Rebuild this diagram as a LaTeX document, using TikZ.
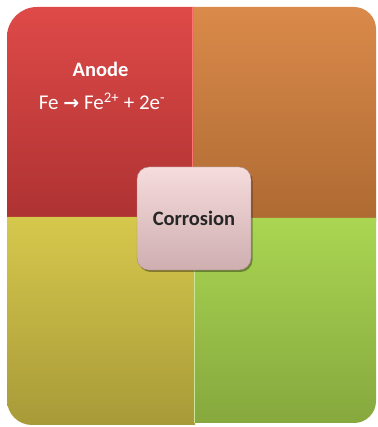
\documentclass[tikz,border=0pt]{standalone}
\usepackage{fontspec}
\setmainfont{Carlito}
\newfontfamily\arrowfont{DejaVu Sans}
\usetikzlibrary{shadows}
\definecolor{redT}{HTML}{DE4A48}
\definecolor{redB}{HTML}{AE3232}
\definecolor{orT}{HTML}{DA8A4A}
\definecolor{orB}{HTML}{AE6A32}
\definecolor{yeT}{HTML}{D6C84C}
\definecolor{yeB}{HTML}{A89A38}
\definecolor{grT}{HTML}{AAD652}
\definecolor{grB}{HTML}{86A83E}
\definecolor{pkT}{HTML}{F6DCDC}
\definecolor{pkB}{HTML}{CFAEB0}
\tikzset{
  quad/.style={shading=axis, shading angle=0},
  whitetext/.style={text=white, font=\fontsize{21}{24}\selectfont, inner sep=0pt, anchor=base},
  centerbox/.style={rounded corners=12pt, minimum width=114pt, minimum height=103pt,
    top color=pkT, bottom color=pkB, draw=pkB!80!black, line width=0.4pt,
    drop shadow={shadow xshift=1.5pt, shadow yshift=-2pt, opacity=0.35, fill=black},
    font=\bfseries\fontsize{20.5}{24}\selectfont, text=black!85}
}
\begin{document}
\begin{tikzpicture}[x=1pt,y=1pt]
\useasboundingbox (0,0) rectangle (377,427);
% orange (top-right)
\shade[quad, top color=orT, bottom color=orB]
  (192,206) -- (192,420) -- (354,420) arc[start angle=90, end angle=0, radius=22] -- (376,206) -- cycle;
% red (top-left)
\shade[quad, top color=redT, bottom color=redB]
  (7,208) -- (7,390) arc[start angle=180, end angle=90, radius=30] -- (193,420) -- (193,208) -- cycle;
% yellow (bottom-left)
\shade[quad, top color=yeT, bottom color=yeB]
  (7,210) -- (7,27) arc[start angle=180, end angle=270, radius=25] -- (195,2) -- (195,210) -- cycle;
% green (bottom-right)
\shade[quad, top color=grT, bottom color=grB]
  (195,209) -- (195,4) -- (354,4) arc[start angle=270, end angle=360, radius=22] -- (376,209) -- cycle;
% thin highlight lines
\draw[line width=1.2pt, color=red!40!pink] (192.6,420) -- (192.6,210);
\draw[line width=1.2pt, color=grT!60!white] (194.8,209) -- (194.8,4);
% texts
\node[whitetext, font=\bfseries\fontsize{20.5}{24}\selectfont] (anode) at (100.5,350) {Anode};
\node[whitetext] (eq) at (102,317) {Fe {\arrowfont\fontsize{19}{22}\selectfont\bfseries →} Fe\textsuperscript{2+} + 2e\textsuperscript{-}};
\node[centerbox] (corrosion) at (194,208.5) {Corrosion};
\end{tikzpicture}
\end{document}
